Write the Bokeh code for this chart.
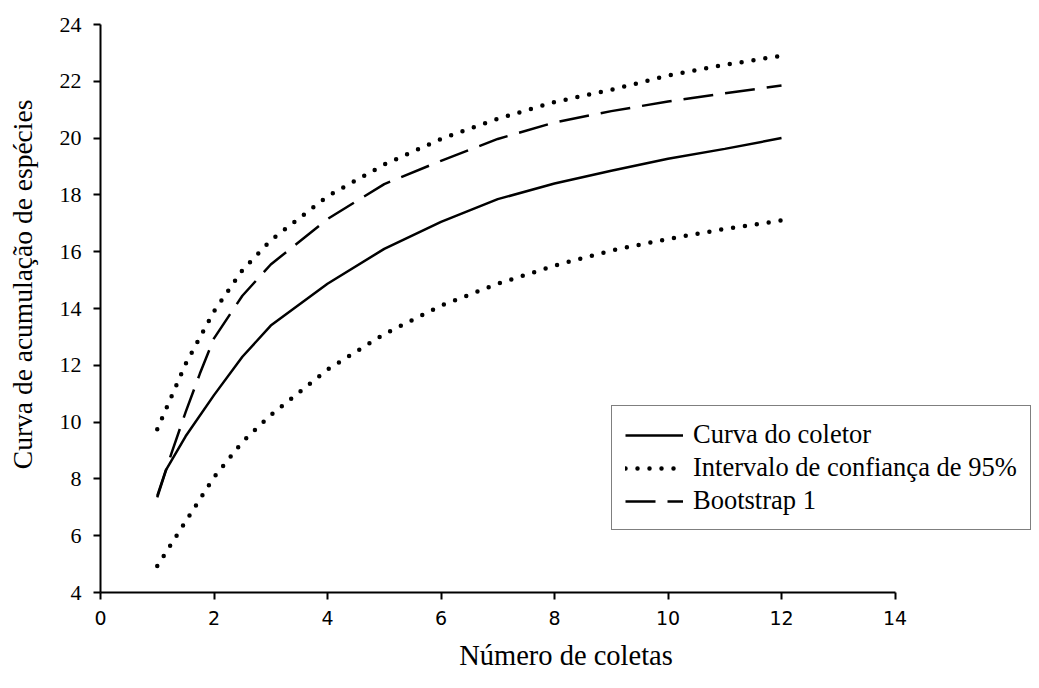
from bokeh.plotting import figure
from bokeh.models import Range1d, FixedTicker, Legend, LegendItem
from bokeh.embed import file_html
from bokeh.resources import INLINE

# ---- data ----
x_coletor = [1, 1.15, 1.5, 2, 2.5, 3, 4, 5, 6, 7, 8, 9, 10, 11, 12]
coletor = [7.4, 8.3, 9.5, 10.95, 12.3, 13.4, 14.87, 16.1, 17.05, 17.85, 18.4, 18.85, 19.27, 19.62, 20.0]

x_ic = [1, 1.5, 2, 2.5, 3, 4, 5, 6, 7, 8, 9, 10, 11, 12]
ic_sup = [9.75, 12.05, 13.9, 15.35, 16.4, 17.95, 19.07, 19.97, 20.68, 21.27, 21.7, 22.2, 22.58, 22.9]
ic_inf = [4.93, 6.5, 8.06, 9.3, 10.25, 11.85, 13.1, 14.1, 14.87, 15.51, 16.04, 16.45, 16.8, 17.1]

x_boot = [1, 1.25, 1.5, 1.75, 2, 2.5, 3, 4, 5, 6, 7, 8, 9, 10, 11, 12]
bootstrap = [7.35, 8.9, 10.35, 11.7, 12.95, 14.45, 15.55, 17.15, 18.38, 19.2, 19.97, 20.55, 20.95, 21.29, 21.58, 21.85]

x_ticks = [0, 2, 4, 6, 8, 10, 12, 14]
y_ticks = [4, 6, 8, 10, 12, 14, 16, 18, 20, 22, 24]

labels = ["Curva do coletor", "Intervalo de confiança de 95%", "Bootstrap 1"]
x_title = "Número de coletas"
y_title = "Curva de acumulação de espécies"

SERIF = "Liberation Serif"

# frame spans beyond x=14 so the legend (which overhangs the axis) is not clipped
p = figure(width=1031, height=680, output_backend="svg", toolbar_location=None,
           x_range=Range1d(0, 16.405), y_range=Range1d(4, 24))
p.min_border_left = 100
p.min_border_right = 0
p.min_border_top = 24
p.min_border_bottom = 88
p.outline_line_color = None
p.xgrid.visible = False
p.ygrid.visible = False
p.background_fill_color = "white"
p.border_fill_color = "white"

r_col = p.line(x_coletor, coletor, line_color="black", line_width=2.5)
r_sup = p.line(x_ic, ic_sup, line_color="black", line_width=4.5, line_dash="0 12", line_cap="round")
r_inf = p.line(x_ic, ic_inf, line_color="black", line_width=4.5, line_dash="0 12", line_cap="round")
r_boot = p.line(x_boot, bootstrap, line_color="black", line_width=2.5, line_dash="30 12")

for ax in (p.xaxis[0], p.yaxis[0]):
    ax.axis_line_color = "black"
    ax.axis_line_width = 2
    ax.major_tick_line_color = "black"
    ax.major_tick_line_width = 2
    ax.major_tick_in = 0
    ax.major_tick_out = 7
    ax.minor_tick_line_color = None
    ax.axis_label_text_font = SERIF
    ax.axis_label_text_font_style = "normal"
    ax.axis_label_text_color = "black"
    ax.major_label_text_color = "black"

p.xaxis.bounds = (0, 14)
p.xaxis.ticker = FixedTicker(ticks=x_ticks)
p.yaxis.ticker = FixedTicker(ticks=y_ticks)
p.xaxis.major_label_text_font = "DejaVu Sans"
p.xaxis.major_label_text_font_size = "19px"
p.xaxis.major_label_standoff = 11
p.yaxis.major_label_text_font = SERIF
p.yaxis.major_label_text_font_size = "22px"
p.yaxis.major_label_standoff = 12

p.xaxis.axis_label = x_title
p.xaxis.axis_label_text_font_size = "28.5px"
p.xaxis.axis_label_standoff = 12
# leading no-break spaces shift the centred title upward, as in the reference
p.yaxis.axis_label = "\u00a0" * 7 + y_title
p.yaxis.axis_label_text_font_size = "27.5px"
p.yaxis.axis_label_standoff = 19

legend = Legend(items=[
    LegendItem(label=labels[0], renderers=[r_col]),
    LegendItem(label=labels[1], renderers=[r_sup]),
    LegendItem(label=labels[2], renderers=[r_boot]),
], location=(511, 62))
legend.label_text_font = SERIF
legend.label_text_font_size = "26.5px"
legend.label_text_color = "black"
legend.glyph_width = 58
legend.glyph_height = 30
legend.label_height = 30
legend.label_standoff = 10
legend.spacing = 2
legend.padding = 13
legend.margin = 0
legend.border_line_color = "black"
legend.border_line_width = 1.5
legend.background_fill_color = "white"
legend.background_fill_alpha = 1
p.add_layout(legend, "center")

open("out.html", "w").write(file_html(p, INLINE))
